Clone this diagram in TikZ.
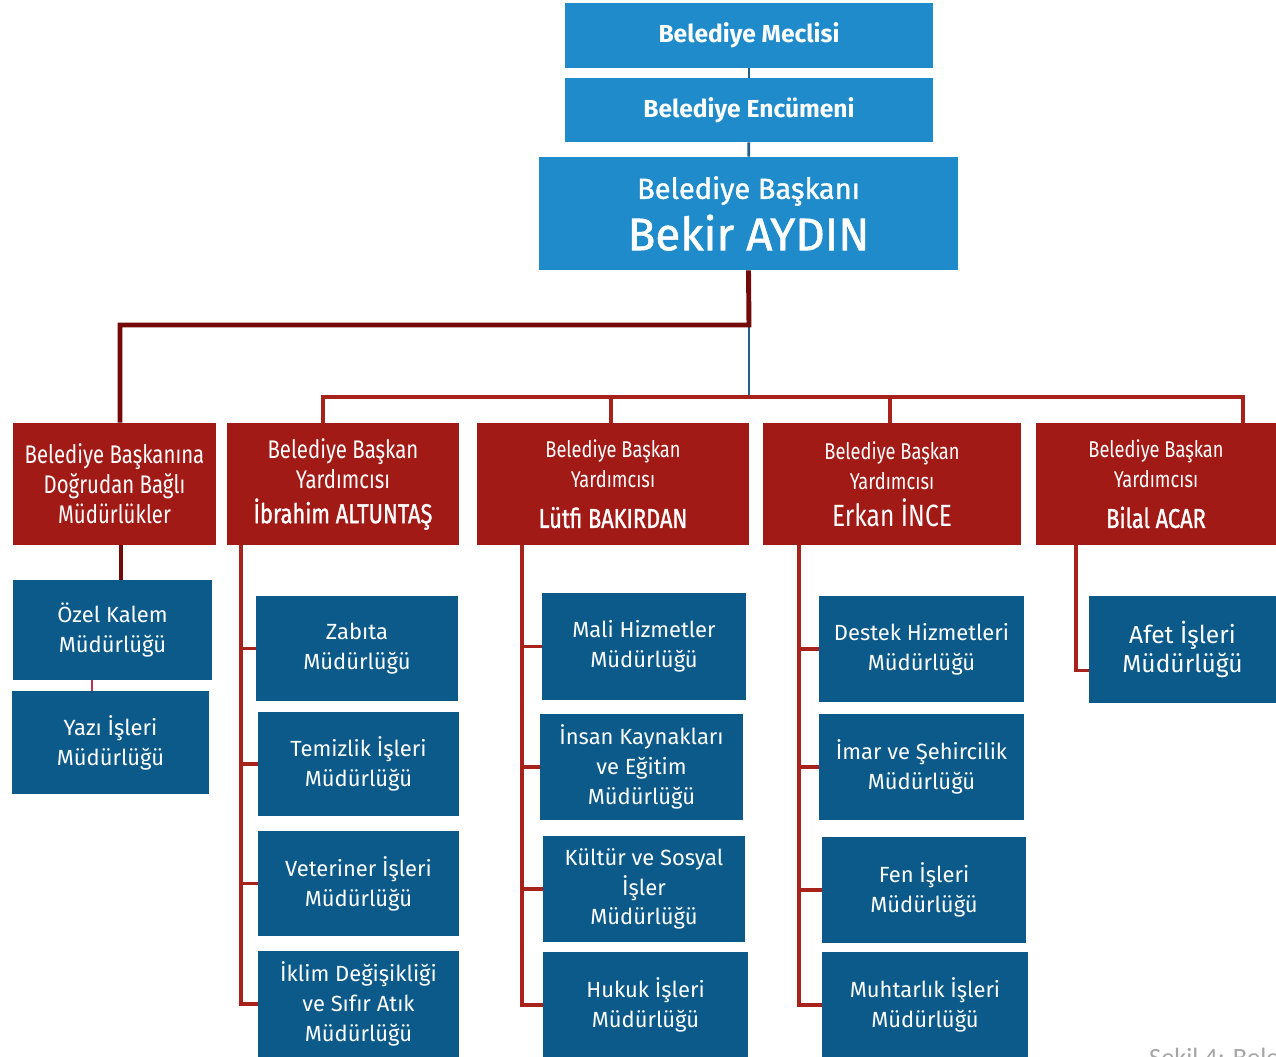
\documentclass[tikz,border=0pt]{standalone}
\usepackage{fontspec}
\setmainfont{Fira Sans}
\newfontfamily\medfont[FakeBold=1.2]{Fira Sans}
\newfontfamily\condfont[FakeStretch=0.8]{Fira Sans}
\newfontfamily\condmedfont[FakeStretch=0.8, FakeBold=1.2]{Fira Sans}
\newfontfamily\capfont{Carlito}
\usetikzlibrary{positioning}

\definecolor{topblue}{HTML}{1F8BCB}
\definecolor{unitblue}{HTML}{0B5A8A}
\definecolor{deputyred}{HTML}{A11A16}
\definecolor{darklink}{HTML}{730909}
\definecolor{buslink}{HTML}{A8221C}
\definecolor{thinblue}{HTML}{21618C}
\definecolor{pinklink}{HTML}{B53250}

\tikzset{
    boxsize/.style 2 args={minimum width=#1*0.02cm, minimum height=#2*0.02cm},
    topbox/.style={fill=topblue, text=white, inner sep=0pt, align=center, font=\bfseries\fontsize{14}{17}\selectfont},
    deputybox/.style={fill=deputyred, text=white, inner sep=0pt, align=center, font=\condfont\fontsize{14.5}{17}\selectfont},
    unitbox/.style={fill=unitblue, text=white, inner sep=0pt, align=center, font=\fontsize{12.5}{17}\selectfont},
    bluelink/.style={draw=thinblue, line width=1.6pt},
    chieflink/.style={draw=darklink, line width=2.8pt},
    redlink/.style={draw=buslink, line width=2pt},
}

\begin{document}
\begin{tikzpicture}[x=0.02cm, y=-0.02cm]

    % page frame
    \useasboundingbox[fill=white] (0,0) rectangle (1276,1057);

    % Top of the chart
    \node[topbox, boxsize={368}{65}] (meclis) at (749,35.5) {Belediye Meclisi};
    \node[topbox, boxsize={368}{64}] (encumen) at (749,110) {Belediye Encümeni};
    \node[topbox, boxsize={419}{113}, font=\medfont] (baskan) at (748.5,213.5)
        {{\fontsize{16.5}{22}\selectfont Belediye Başkanı}\\[4pt]{\fontsize{26}{30}\selectfont Bekir AYDIN}};

    % Deputies and the mayor's own office
    \node[deputybox, boxsize={203}{122}] (dogrudan) at (114.5,484)
        {Belediye Başkanına\\Doğrudan Bağlı\\Müdürlükler};
    \node[deputybox, boxsize={232}{122}] (ibrahim) at (343,484)
        {Belediye Başkan\\Yardımcısı\\[3pt]{\condmedfont\fontsize{15.5}{17}\selectfont İbrahim ALTUNTAŞ}};
    \node[deputybox, boxsize={272}{122}] (lutfi) at (613,484)
        {{\fontsize{13}{15}\selectfont Belediye Başkan}\\{\fontsize{13}{15}\selectfont Yardımcısı}\\[6pt]{\condmedfont\fontsize{15.5}{17}\selectfont Lütfi BAKIRDAN}};
    \node[deputybox, boxsize={258}{122}] (erkan) at (892,484)
        {{\fontsize{13}{15}\selectfont Belediye Başkan}\\{\fontsize{13}{15}\selectfont Yardımcısı}\\[4pt]{\fontsize{17.5}{17}\selectfont Erkan İNCE}};
    \node[deputybox, boxsize={240}{122}] (bilal) at (1156,484)
        {{\fontsize{13}{15}\selectfont Belediye Başkan}\\{\fontsize{13}{15}\selectfont Yardımcısı}\\[6pt]{\condmedfont\fontsize{15.5}{17}\selectfont Bilal ACAR}};

    % Units under the mayor
    \node[unitbox, boxsize={199}{100}] (ozel) at (112.5,630) {Özel Kalem\\Müdürlüğü};
    \node[unitbox, boxsize={197}{103}] (yazi) at (110.5,742.5) {Yazı İşleri\\Müdürlüğü};

    % Units under Ibrahim ALTUNTAS
    \node[unitbox, boxsize={202}{105}] (zabita) at (357,648.5) {Zabıta\\Müdürlüğü};
    \node[unitbox, boxsize={201}{104}] (temizlik) at (358.5,764) {Temizlik İşleri\\Müdürlüğü};
    \node[unitbox, boxsize={201}{105}] (veteriner) at (358.5,883.5) {Veteriner İşleri\\Müdürlüğü};
    \node[unitbox, boxsize={201}{106}] (iklim) at (358.5,1004) {İklim Değişikliği\\ve Sıfır Atık\\Müdürlüğü};

    % Units under Lutfi BAKIRDAN
    \node[unitbox, boxsize={204}{107}] (mali) at (644,646.5) {Mali Hizmetler\\Müdürlüğü};
    \node[unitbox, boxsize={203}{106}] (insan) at (641.5,767) {İnsan Kaynakları\\ve Eğitim\\Müdürlüğü};
    \node[unitbox, boxsize={202}{106}] (kultur) at (644,889) {Kültür ve Sosyal\\İşler\\Müdürlüğü};
    \node[unitbox, boxsize={205}{106}] (hukuk) at (645.5,1005) {Hukuk İşleri\\Müdürlüğü};

    % Units under Erkan INCE
    \node[unitbox, boxsize={205}{106}] (destek) at (921.5,649) {Destek Hizmetleri\\Müdürlüğü};
    \node[unitbox, boxsize={205}{106}] (imar) at (921.5,767) {İmar ve Şehircilik\\Müdürlüğü};
    \node[unitbox, boxsize={204}{106}] (fen) at (924,890) {Fen İşleri\\Müdürlüğü};
    \node[unitbox, boxsize={206}{106}] (muhtarlik) at (925,1005) {Muhtarlık İşleri\\Müdürlüğü};

    % Unit under Bilal ACAR
    \node[unitbox, boxsize={187}{107}, font=\fontsize{14}{17}\selectfont] (afet) at (1182.5,649.5) {Afet İşleri\\Müdürlüğü};

    % Links at the top
    \draw[bluelink] (meclis) -- (encumen);
    \draw[bluelink] (encumen) -- (baskan);

    % Mayor to his own office, and down to the deputies' bus
    \coordinate (split) at (749,325);
    \coordinate (busL) at (323,397);
    \coordinate (busR) at (1243,397);
    \draw[bluelink] (split) -- (split |- busL);
    \draw[chieflink] (baskan.south) -- (split) -| (dogrudan.north -| 120,0);
    \draw[redlink] (busL |- ibrahim.north) -- (busL) -- (busR) -- (busR |- bilal.north);
    \draw[redlink] (lutfi.north -| 611,0) -- (611,397);
    \draw[redlink] (erkan.north -| 890,0) -- (890,397);

    % Mayor's office
    \draw[chieflink] (dogrudan.south -| 121,0) -- (ozel.north -| 121,0);
    \draw[pinklink, line width=1.6pt] (ozel.south -| 92,0) -- (yazi.north -| 92,0);

    % Spines of the deputies
    \coordinate (spineA) at (241,545);
    \coordinate (spineB) at (522,545);
    \coordinate (spineC) at (799,545);
    \coordinate (spineD) at (1076,545);
    \draw[redlink] (spineA) |- (iklim.west);
    \foreach \unit in {zabita,temizlik,veteriner}
        \draw[redlink] (spineA |- \unit.west) -- (\unit.west);
    \draw[redlink] (spineB) |- (hukuk.west);
    \foreach \unit in {mali,insan,kultur}
        \draw[redlink] (spineB |- \unit.west) -- (\unit.west);
    \draw[redlink] (spineC) |- (muhtarlik.west);
    \foreach \unit in {destek,imar,fen}
        \draw[redlink] (spineC |- \unit.west) -- (\unit.west);
    \draw[redlink] (spineD) |- ([yshift=-12pt]afet.west);

    % caption, cut by the page edge
    \node[anchor=base west, text=gray!70, font=\capfont\fontsize{15}{18}\selectfont] (caption) at (1143,1066) {Şekil 4: Belediye};

\end{tikzpicture}
\end{document}
